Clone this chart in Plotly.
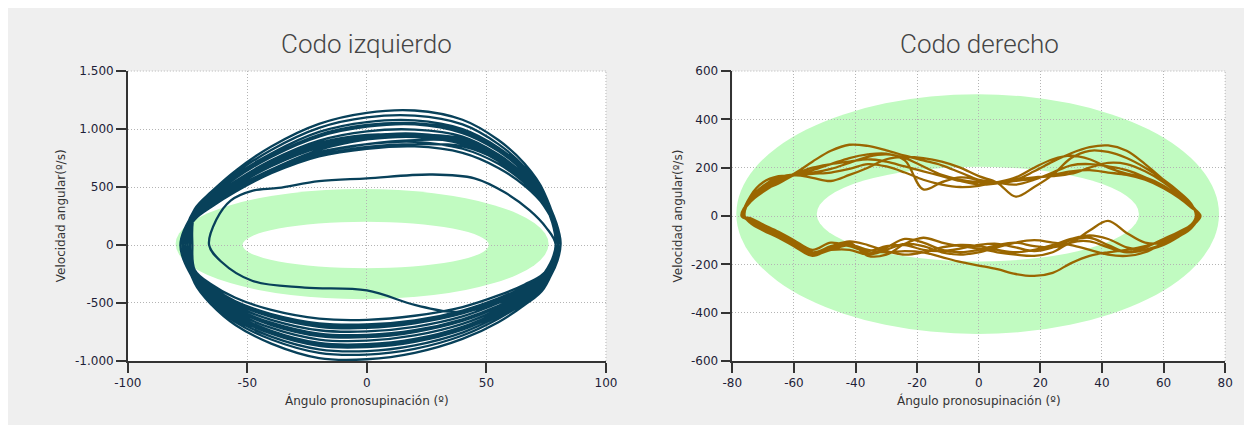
import plotly.graph_objects as go

# ---------------- DATA ----------------
LEFT_TITLE = "Codo izquierdo"
RIGHT_TITLE = "Codo derecho"
X_TITLE = "Ángulo pronosupinación (º)"
Y_TITLE = "Velocidad angular(º/s)"

LEFT_XTICKS = [-100, -50, 0, 50, 100]
LEFT_XTICKTEXT = ["-100", "-50", "0", "50", "100"]
LEFT_YTICKS = [-1000, -500, 0, 500, 1000, 1500]
LEFT_YTICKTEXT = ["-1.000", "-500", "0", "500", "1.000", "1.500"]
RIGHT_XTICKS = [-80, -60, -40, -20, 0, 20, 40, 60, 80]
RIGHT_XTICKTEXT = ["-80", "-60", "-40", "-20", "0", "20", "40", "60", "80"]
RIGHT_YTICKS = [-600, -400, -200, 0, 200, 400, 600]
RIGHT_YTICKTEXT = ["-600", "-400", "-200", "0", "200", "400", "600"]

# normal band (ellipse ring) : [x0, x1, y0, y1]
LEFT_RING_OUTER = [-80, 76, -467, 483]
LEFT_RING_INNER = [-52, 51, -200, 200]
RIGHT_RING_OUTER = [-78.7, 78, -488, 504]
RIGHT_RING_INNER = [-52.6, 52, -188, 204]

# ---- left elbow: phase loops ----
LEFT_TOP_X = [-72, -65, -55, -40, -20, 0, 20, 40, 55, 66, 74]
LEFT_BOT_X = [74, 66, 55, 40, 20, 0, -20, -40, -55, -65, -72]
LEFT_XL = [-77, -76, -78, -75, -77, -76, -74, -77, -75, -76, -78, -77, -73, -76, -75, -77]
LEFT_XR = [80, 81, 79, 80, 81, 80, 79, 81, 80, 80, 79, 81, 80, 79, 81]
LEFT_TOP = [
    [310, 460, 640, 850, 1045, 1140, 1160, 1080, 905, 700, 460],
    [300, 450, 620, 820, 1010, 1100, 1115, 1040, 870, 670, 440],
    [290, 430, 600, 790, 975, 1060, 1075, 1000, 840, 650, 430],
    [280, 415, 575, 760, 935, 1020, 1040, 965, 810, 625, 415],
    [270, 400, 550, 730, 900, 980, 995, 935, 780, 600, 400],
    [260, 385, 530, 700, 865, 940, 960, 900, 750, 575, 385],
    [240, 350, 490, 650, 820, 910, 950, 920, 780, 600, 400],
    [250, 370, 510, 680, 840, 910, 930, 870, 725, 560, 370],
    [230, 340, 470, 630, 790, 870, 905, 890, 760, 590, 390],
    [240, 355, 490, 650, 800, 870, 890, 830, 700, 535, 360],
    [220, 330, 460, 620, 770, 845, 870, 850, 730, 570, 380],
    [230, 340, 470, 620, 765, 830, 850, 795, 665, 510, 340],
    [265, 395, 545, 720, 880, 950, 940, 905, 765, 590, 395],
    [255, 380, 520, 690, 850, 925, 945, 885, 740, 565, 375],
    [285, 420, 585, 770, 950, 1035, 1050, 985, 825, 640, 420],
]
LEFT_BOT = [
    [-375, -515, -665, -810, -930, -985, -975, -850, -690, -515, -330],
    [-360, -495, -635, -780, -895, -945, -930, -815, -665, -495, -315],
    [-350, -480, -615, -755, -865, -915, -900, -790, -645, -480, -305],
    [-340, -465, -595, -730, -835, -880, -870, -765, -625, -465, -295],
    [-325, -445, -575, -705, -810, -855, -845, -740, -600, -445, -285],
    [-315, -430, -555, -680, -780, -825, -815, -715, -580, -430, -275],
    [-305, -415, -535, -655, -750, -795, -785, -690, -560, -415, -265],
    [-295, -405, -525, -640, -735, -775, -765, -670, -545, -405, -260],
    [-285, -390, -500, -615, -705, -745, -735, -645, -525, -390, -250],
    [-275, -375, -480, -590, -675, -715, -705, -620, -505, -375, -240],
    [-260, -360, -460, -565, -650, -685, -675, -595, -485, -360, -230],
    [-245, -340, -435, -535, -610, -645, -635, -560, -455, -340, -215],
    [-330, -455, -585, -720, -820, -870, -860, -750, -610, -455, -290],
    [-300, -410, -530, -650, -745, -785, -775, -680, -550, -410, -262],
    [-270, -370, -470, -580, -665, -700, -690, -610, -495, -368, -236],
]
LEFT_INNER_AFTER = 6
LEFT_INNER_BOT_X = [74, 66, 55, 42, 34, 20, 0, -26, -48, -61]
LEFT_INNER_BOT_Y = [-250, -400, -500, -570, -575, -517, -392, -367, -308, -142]
LEFT_INNER_XL = -66
LEFT_INNER_TOP_X = [-63, -57, -48, -37, -20, 0, 27, 45, 58, 68, 75]
LEFT_INNER_TOP_Y = [217, 383, 467, 492, 550, 575, 608, 575, 450, 300, 150]
LEFT_INNER_XR = 79

# ---- right elbow: phase loops ----
RIGHT_TOP_X = [-74, -70, -65, -60, -54, -48, -42, -36, -30, -24, -18, -12, -6,
               0, 6, 12, 18, 24, 30, 36, 42, 48, 54, 60, 65, 69]
RIGHT_BOT_X = [69, 65, 60, 54, 48, 42, 36, 30, 24, 18, 12, 6, 0,
               -6, -12, -18, -24, -30, -36, -42, -48, -54, -60, -65, -70, -74]
RIGHT_XL = [-77, -76.5, -77, -76, -77, -76.5, -77]
RIGHT_XR = [71, 72, 70.5, 71.5, 72, 71]
RIGHT_TOP = [
    [70, 110, 150, 175, 225, 270, 295, 290, 272, 250, 230, 210, 180, 150, 135, 150, 185, 225, 260, 285, 292, 270, 215, 150, 95, 45],
    [80, 120, 155, 170, 190, 215, 240, 255, 258, 230, 110, 140, 160, 150, 138, 130, 150, 180, 210, 215, 205, 190, 160, 120, 80, 40],
    [60, 100, 140, 168, 158, 145, 170, 200, 235, 245, 240, 225, 200, 165, 138, 80, 120, 170, 240, 270, 265, 240, 200, 150, 100, 50],
    [75, 125, 160, 172, 180, 195, 220, 245, 255, 240, 205, 170, 150, 140, 135, 150, 160, 165, 175, 200, 220, 215, 185, 140, 90, 45],
    [65, 105, 135, 170, 200, 215, 225, 235, 225, 205, 185, 165, 145, 130, 135, 145, 155, 170, 185, 190, 180, 170, 150, 115, 75, 35],
    [85, 140, 165, 168, 175, 180, 195, 215, 205, 180, 150, 130, 120, 125, 140, 160, 200, 235, 250, 235, 200, 175, 160, 125, 80, 40],
]
RIGHT_BOT = [
    [-40, -70, -100, -125, -140, -150, -165, -195, -235, -248, -240, -220, -205, -190, -170, -150, -145, -150, -140, -120, -140, -160, -120, -85, -55, -25],
    [-45, -80, -110, -110, -70, -20, -60, -110, -130, -125, -110, -120, -140, -150, -140, -110, -95, -130, -155, -115, -125, -155, -115, -80, -50, -20],
    [-35, -65, -95, -130, -150, -130, -105, -110, -150, -165, -160, -150, -135, -125, -110, -90, -115, -160, -165, -110, -135, -165, -125, -90, -60, -30],
    [-50, -85, -120, -140, -130, -95, -80, -95, -120, -140, -150, -140, -125, -120, -130, -150, -160, -145, -120, -105, -125, -150, -110, -75, -45, -15],
    [-40, -75, -110, -150, -165, -160, -140, -120, -110, -100, -110, -130, -150, -160, -150, -125, -115, -140, -160, -140, -140, -150, -105, -70, -40, -15],
    [-45, -80, -115, -140, -150, -120, -90, -100, -130, -145, -130, -115, -120, -135, -145, -140, -120, -125, -145, -125, -110, -140, -100, -65, -35, -10],
]

# ---------------- STYLE ----------------
# the page keeps the default 8px body margin, which gives the white frame
PAGE_MARGIN = 8
W, H = 1252 - 2 * PAGE_MARGIN, 433 - 2 * PAGE_MARGIN
BG = "#efefef"
GREEN = "#c1fbc1"
LEFT_COLOR = "#08415a"
RIGHT_COLOR = "#9a6600"
GRID_COLOR = "#b4b4b4"
GRID_DASH = "1px,2px"
TICK_FONT = dict(family="DejaVu Sans", size=12, color="#1e1e38")
LABEL_FONT = dict(family="DejaVu Sans", size=12, color="#333333")
TITLE_FONT = dict(family="Roboto", size=26, color="#444444", weight=300)


def px_x(p):
    return (p - PAGE_MARGIN) / W


def px_y(p):
    return 1 - (p - PAGE_MARGIN) / H


LEFT_DOM = [px_x(116), px_x(604)]
RIGHT_DOM = [px_x(733), px_x(1236)]
Y_DOM = [px_y(366), px_y(66)]


def build(xl, xr, top_x, tops, bot_x, bots, inner=None):
    xs, ys = [], []
    for i in range(len(tops)):
        xs.append(xl[i]); ys.append(0)
        xs += top_x; ys += tops[i]
        xs.append(xr[i]); ys.append(0)
        if inner is not None and i == inner[0]:
            _, bx, by, ixl, tx, ty, ixr = inner
            xs += bx; ys += by
            xs.append(ixl); ys.append(0)
            xs += tx; ys += ty
            xs.append(ixr); ys.append(0)
        xs += bot_x; ys += bots[i]
    xs.append(xl[len(tops)]); ys.append(0)
    return xs, ys


lx, ly = build(LEFT_XL, LEFT_XR, LEFT_TOP_X, LEFT_TOP, LEFT_BOT_X, LEFT_BOT,
               (LEFT_INNER_AFTER, LEFT_INNER_BOT_X, LEFT_INNER_BOT_Y, LEFT_INNER_XL,
                LEFT_INNER_TOP_X, LEFT_INNER_TOP_Y, LEFT_INNER_XR))
rx, ry = build(RIGHT_XL, RIGHT_XR, RIGHT_TOP_X, RIGHT_TOP, RIGHT_BOT_X, RIGHT_BOT)

fig = go.Figure()
fig.add_trace(go.Scatter(x=lx, y=ly, mode="lines", xaxis="x", yaxis="y",
                         line=dict(color=LEFT_COLOR, width=2.3, shape="spline", smoothing=1.0),
                         showlegend=False, hoverinfo="skip"))
fig.add_trace(go.Scatter(x=rx, y=ry, mode="lines", xaxis="x2", yaxis="y2",
                         line=dict(color=RIGHT_COLOR, width=2.3, shape="spline", smoothing=1.0),
                         showlegend=False, hoverinfo="skip"))

shapes = []
for (xr_, yr_, outer, inner) in [("x", "y", LEFT_RING_OUTER, LEFT_RING_INNER),
                                 ("x2", "y2", RIGHT_RING_OUTER, RIGHT_RING_INNER)]:
    shapes.append(dict(type="circle", xref=xr_, yref=yr_, x0=outer[0], x1=outer[1],
                       y0=outer[2], y1=outer[3], fillcolor=GREEN, line=dict(width=0), layer="below"))
    shapes.append(dict(type="circle", xref=xr_, yref=yr_, x0=inner[0], x1=inner[1],
                       y0=inner[2], y1=inner[3], fillcolor="white", line=dict(width=0), layer="below"))
# dotted frame on the top and right edge of each plot area
for xd, yd in [("x domain", "y domain"), ("x2 domain", "y2 domain")]:
    shapes.append(dict(type="line", xref=xd, yref=yd, x0=0, x1=1, y0=1, y1=1,
                       line=dict(color=GRID_COLOR, width=1, dash=GRID_DASH), layer="below"))
    shapes.append(dict(type="line", xref=xd, yref=yd, x0=1, x1=1, y0=0, y1=1,
                       line=dict(color=GRID_COLOR, width=1, dash=GRID_DASH), layer="below"))

axis_common = dict(showgrid=True, gridcolor=GRID_COLOR, griddash=GRID_DASH, gridwidth=1,
                   zeroline=False, showline=True, linecolor="#333333", linewidth=1.5,
                   ticks="outside", ticklen=10, tickwidth=1.5, tickcolor="#333333",
                   tickfont=TICK_FONT, tickmode="array", fixedrange=True)

fig.update_layout(
    width=W, height=H,
    margin=dict(l=0, r=0, t=0, b=0),
    paper_bgcolor=BG, plot_bgcolor="white",
    xaxis=dict(domain=LEFT_DOM, range=[-100, 100], tickvals=LEFT_XTICKS, ticktext=LEFT_XTICKTEXT,
               anchor="y", **axis_common),
    yaxis=dict(domain=Y_DOM, range=[-1000, 1500], tickvals=LEFT_YTICKS, ticktext=LEFT_YTICKTEXT,
               anchor="x", **axis_common),
    xaxis2=dict(domain=RIGHT_DOM, range=[-80, 80], tickvals=RIGHT_XTICKS, ticktext=RIGHT_XTICKTEXT,
                anchor="y2", **axis_common),
    yaxis2=dict(domain=Y_DOM, range=[-600, 600], tickvals=RIGHT_YTICKS, ticktext=RIGHT_YTICKTEXT,
                anchor="x2", **axis_common),
    shapes=shapes,
    annotations=[
        dict(text=LEFT_TITLE, x=px_x(360), y=px_y(38), xref="paper", yref="paper",
             showarrow=False, font=TITLE_FONT, xanchor="center", yanchor="middle"),
        dict(text=RIGHT_TITLE, x=px_x(985), y=px_y(38), xref="paper", yref="paper",
             showarrow=False, font=TITLE_FONT, xanchor="center", yanchor="middle"),
        dict(text=X_TITLE, x=px_x(360), y=px_y(407), xref="paper", yref="paper",
             showarrow=False, font=LABEL_FONT, xanchor="center", yanchor="middle"),
        dict(text=X_TITLE, x=px_x(985), y=px_y(407), xref="paper", yref="paper",
             showarrow=False, font=LABEL_FONT, xanchor="center", yanchor="middle"),
        dict(text=Y_TITLE, x=px_x(48), y=px_y(216), xref="paper", yref="paper", textangle=-90,
             showarrow=False, font=LABEL_FONT, xanchor="center", yanchor="middle"),
        dict(text=Y_TITLE, x=px_x(678), y=px_y(216), xref="paper", yref="paper", textangle=-90,
             showarrow=False, font=LABEL_FONT, xanchor="center", yanchor="middle"),
    ],
)

fig.write_html("out.html", config={"displayModeBar": False})
